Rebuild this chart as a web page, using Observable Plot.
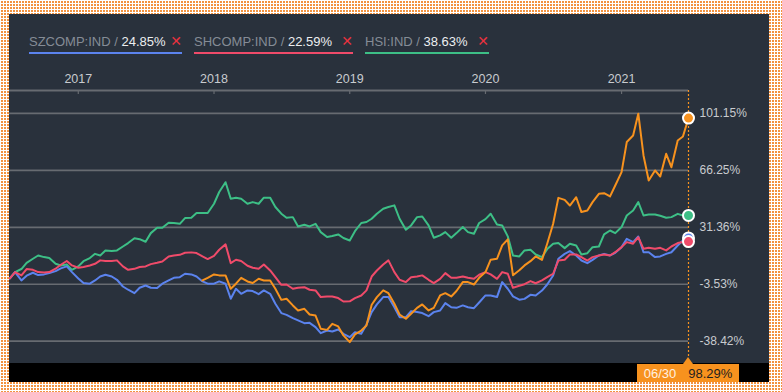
<!DOCTYPE html>
<html><head><meta charset="utf-8">
<script src="https://cdn.jsdelivr.net/npm/d3@7"></script>
<script src="https://cdn.jsdelivr.net/npm/@observablehq/plot@0.6"></script>
<style>
html,body{margin:0;padding:0;}
body{width:782px;height:392px;overflow:hidden;position:relative;
  background-color:#f2923f;
  background-image:linear-gradient(90deg,#fff 1px,transparent 1px),linear-gradient(#fff 1px,transparent 1px);
  background-size:3px 3px;
  font-family:"Liberation Sans",Arial,sans-serif;}
#panel{position:absolute;left:9px;top:14px;width:760px;height:368px;background:#29313c;overflow:hidden;}
#band{position:absolute;left:0;top:349px;width:760px;height:19px;background:#000;}
#chart{position:absolute;left:0;top:0;}
#legend{position:absolute;left:20px;top:20px;display:flex;gap:12px;font-size:13px;line-height:15px;white-space:nowrap;}
.item{flex:none;display:flex;justify-content:space-between;align-items:center;padding-bottom:3px;border-bottom:2px solid;white-space:nowrap;}
.item .nm{color:#858c96;}
.item .vl{color:#eceef0;}
.item .x{color:#e8323f;font-family:"DejaVu Sans",sans-serif;font-size:14px;font-weight:bold;line-height:15px;}
#tip{position:absolute;top:350px;height:18px;width:102px;background:#f7921e;display:flex;align-items:center;justify-content:center;gap:12px;font-size:13px;}
#tip .d{color:#fff1e0;}
#tip .v{color:#1e1e1e;}
#tri{position:absolute;top:343px;width:0;height:0;border-left:5.5px solid transparent;border-right:5.5px solid transparent;border-bottom:7px solid #f7921e;}
</style></head>
<body>
<div id="panel">
  <div id="band"></div>
  <div id="chart"></div>
  <div id="legend"></div>
  <div id="tri"></div>
  <div id="tip"></div>
</div>
<script>
const dates = [
"2016-07-01","2016-07-15","2016-08-01","2016-08-15","2016-09-01","2016-09-15","2016-10-01","2016-10-15","2016-11-01","2016-11-15","2016-12-01","2016-12-15",
"2017-01-01","2017-01-15","2017-02-01","2017-02-15","2017-03-01","2017-03-15","2017-04-01","2017-04-15","2017-05-01","2017-05-15","2017-06-01","2017-06-15",
"2017-07-01","2017-07-15","2017-08-01","2017-08-15","2017-09-01","2017-09-15","2017-10-01","2017-10-15","2017-11-01","2017-11-15","2017-12-01","2017-12-15",
"2018-01-01","2018-01-15","2018-02-01","2018-02-15","2018-03-01","2018-03-15","2018-04-01","2018-04-15","2018-05-01","2018-05-15","2018-06-01","2018-06-15",
"2018-07-01","2018-07-15","2018-08-01","2018-08-15","2018-09-01","2018-09-15","2018-10-01","2018-10-15","2018-11-01","2018-11-15","2018-12-01","2018-12-15",
"2019-01-01","2019-01-15","2019-02-01","2019-02-15","2019-03-01","2019-03-15","2019-04-01","2019-04-15","2019-05-01","2019-05-15","2019-06-01","2019-06-15",
"2019-07-01","2019-07-15","2019-08-01","2019-08-15","2019-09-01","2019-09-15","2019-10-01","2019-10-15","2019-11-01","2019-11-15","2019-12-01","2019-12-15",
"2020-01-01","2020-01-15","2020-02-01","2020-02-15","2020-03-01","2020-03-15","2020-04-01","2020-04-15","2020-05-01","2020-05-15","2020-06-01","2020-06-15",
"2020-07-01","2020-07-15","2020-08-01","2020-08-15","2020-09-01","2020-09-15","2020-10-01","2020-10-15","2020-11-01","2020-11-15","2020-12-01","2020-12-15",
"2021-01-01","2021-01-15","2021-02-01","2021-02-15","2021-03-01","2021-03-15","2021-04-01","2021-04-15","2021-05-01","2021-05-15","2021-06-01","2021-06-15",
"2021-06-30"];

const hsi = [0,3.9,5.8,9.6,12.1,14.1,13.1,12.5,9.0,8.0,
8.6,5.3,7.4,10.6,12.5,15.1,14.1,17.2,16.8,17.2,
19.6,21.7,24.7,24.1,22.5,27.8,31.1,31.1,34.2,34.0,
33.5,37.0,37.2,40.1,40.1,40.1,45.8,53.0,59.0,48.9,
49.5,48.9,45.8,46.8,45.8,49.5,49.5,43.8,39.7,37.2,
37.6,31.9,32.9,31.9,33.5,28.4,25.4,26.0,27.0,24.8,
23.3,29.0,34.0,34.6,36.6,39.7,42.7,43.8,44.8,36.6,
29.9,32.5,37.6,38.0,32.5,25.0,26.4,28.4,25.0,27.8,
31.5,28.4,27.4,34.0,36.4,39.7,33.1,32.5,25.8,14.1,
13.5,17.2,17.6,14.7,13.1,18.0,21.3,21.7,18.6,21.3,
20.2,14.7,15.5,19.2,19.6,27.0,29.4,27.8,31.5,38.6,
41.7,46.8,38.6,39.2,39.2,38.4,37.2,37.6,39.6,38.6,
38.63];

const shcomp = [0,3.9,1.9,5.8,5.3,3.9,3.7,3.9,6.0,8.4,
10.7,8.0,6.6,7.0,8.0,9.0,11.1,10.7,10.7,11.1,
7.4,5.3,5.9,7.0,7.4,8.8,9.6,10.4,13.5,14.1,
14.5,15.8,16.0,15.6,13.5,11.9,13.9,17.6,20.9,9.4,
11.5,10.7,7.8,6.6,5.9,8.6,4.9,0.8,-3.9,-3.7,
-6.3,-5.7,-5.3,-6.9,-7.3,-11.4,-11.0,-11.0,-12.0,-14.1,
-14.0,-12.0,-10.4,-7.3,1.2,4.9,8.6,11.1,3.9,-0.8,
-2.2,0.8,1.2,1.9,-0.8,-2.8,-0.2,3.3,0.4,0.4,
1.2,0.4,-0.2,2.3,3.9,2.5,-0.2,3.9,2.9,-5.7,
-4.5,-3.5,-1.6,-2.9,-1.2,0.8,2.9,11.0,11.5,14.7,
14.7,13.1,11.0,13.1,14.1,14.7,14.1,16.1,19.2,22.3,
21.3,25.3,18.2,18.8,18.2,18.8,17.2,19.6,21.7,22.3,
22.59];

const szcomp = [0,3.9,-1.2,1.7,3.5,2.1,2.5,3.3,4.5,6.2,
7.4,3.9,0.0,-2.8,-3.2,-1.2,1.2,2.3,1.2,-0.8,
-4.9,-6.9,-9.0,-5.7,-4.3,-5.7,-5.9,-3.2,-1.2,0.4,
0.8,2.9,2.5,1.2,-1.8,-3.2,-3.2,-1.8,-3.2,-12.4,
-6.3,-9.4,-7.3,-7.7,-9.6,-7.3,-9.4,-15.5,-21.2,-22.3,
-24.3,-25.7,-27.4,-27.2,-29.8,-33.5,-31.9,-32.5,-31.3,-33.9,
-36.0,-32.9,-33.9,-28.2,-20.6,-15.9,-11.4,-11.4,-17.6,-23.7,
-23.7,-20.0,-20.6,-21.2,-23.1,-20.6,-19.6,-15.1,-17.6,-18.0,
-16.5,-17.6,-18.2,-14.7,-10.4,-10.4,-11.4,-2.2,-6.3,-11.0,
-13.0,-12.5,-10.0,-10.4,-7.4,-3.7,1.8,12.1,15.1,16.8,
14.1,11.0,9.4,11.4,14.1,15.1,14.1,15.7,19.2,24.3,
22.3,25.7,16.1,16.1,13.1,13.5,15.1,16.1,20.2,23.3,
24.85];

const focus = [null,null,null,null,null,null,null,null,null,null,
null,null,null,null,null,null,null,null,null,null,
null,null,null,null,null,null,null,null,null,null,
null,null,null,null,-1.2,0.4,2.5,1.9,1.9,-6.3,
-3.2,0.4,-1.8,-2.8,-0.2,-1.2,-1.2,-6.3,-13.1,-12.4,
-16.5,-19.6,-18.6,-22.1,-22.7,-30.8,-31.5,-27.8,-29.4,-34.9,
-39.0,-34.3,-31.9,-28.8,-16.1,-11.4,-7.3,-9.0,-15.5,-22.1,
-24.7,-21.6,-18.0,-15.9,-19.6,-18.0,-10.4,-9.0,-11.0,-7.7,
-2.2,-2.2,-3.7,0.4,3.9,11.5,12.1,20.3,24.0,2.0,
5.0,8.0,10.6,13.5,11.4,21.3,33.5,49.4,48.2,44.7,
49.8,40.7,41.7,46.8,51.9,52.3,50.3,57.0,65.2,83.6,
87.6,101.0,75.4,60.0,66.2,62.5,76.4,68.2,84.6,87.0,
98.29];

const yearTicks = ["2017-01-01","2018-01-01","2019-01-01","2020-01-01","2021-01-01"];
const yTicks = [101.15, 66.25, 31.36, -3.53, -38.42];
const xDomain = ["2016-06-30","2021-06-30"];
const yDomain = [-52.1, 115.2];

const names = ["HSI:IND","SZCOMP:IND","SHCOMP:IND","FOCUS"];
const colors = ["#3dbf86","#5b83ee","#f04b6a","#f7921e"];
const valuesByName = {"HSI:IND": hsi, "SZCOMP:IND": szcomp, "SHCOMP:IND": shcomp, "FOCUS": focus};

const parse = d3.utcParse("%Y-%m-%d");
const rows = names.flatMap(n => dates.map((d, i) => ({date: parse(d), value: valuesByName[n][i], name: n})).filter(r => r.value != null));
const dotOrder = ["FOCUS","HSI:IND","SZCOMP:IND","SHCOMP:IND"];
const lastRows = dotOrder.map(n => ({date: parse(dates[dates.length - 1]), value: valuesByName[n][dates.length - 1], name: n}));

const gridColor = "#676b71";
const chart = Plot.plot({
  width: 760, height: 368,
  marginTop: 76, marginBottom: 19, marginLeft: 0, marginRight: 81,
  style: {background: "transparent", overflow: "visible", fontFamily: "'Liberation Sans', Arial, sans-serif", fontSize: "12px", color: "#c8cbcf"},
  x: {type: "utc", domain: xDomain.map(parse)},
  y: {domain: yDomain},
  color: {domain: names, range: colors},
  marks: [
    Plot.ruleY(yTicks, {stroke: gridColor, strokeWidth: 1.7}),
    Plot.ruleY([yDomain[1]], {stroke: "#676b71", strokeWidth: 1.8}),
    Plot.ruleX(yearTicks.map(parse), {stroke: "#676b71", strokeWidth: 1.2, insetBottom: 269}),
    Plot.axisX({anchor: "top", ticks: yearTicks.map(parse), tickFormat: d3.utcFormat("%Y"), tickSize: 0, tickPadding: 8, fill: "#c8cbcf", fontSize: 12.5, label: null}),
    Plot.axisY({anchor: "right", ticks: yTicks, tickFormat: d => d.toFixed(2) + "%", tickSize: 0, tickPadding: 11, fill: "#c8cbcf", fontSize: 12, label: null}),
    Plot.ruleX([parse(xDomain[1])], {stroke: "#f7921e", strokeWidth: 1.2, strokeDasharray: "2,2", insetBottom: 6}),
    Plot.lineY(rows, {x: "date", y: "value", z: "name", stroke: "name", strokeWidth: 2}),
    Plot.dot(lastRows, {x: "date", y: "value", fill: "name", stroke: "#ffffff", strokeWidth: 2, r: 5.5})
  ]
});
document.getElementById("chart").appendChild(chart);

// legend
const legendItems = [
  {name: "SZCOMP:IND", vals: szcomp, color: "#5b83ee", width: 153},
  {name: "SHCOMP:IND", vals: shcomp, color: "#f04b6a", width: 159},
  {name: "HSI:IND", vals: hsi, color: "#3dbf86", width: 124}
];
const legend = document.getElementById("legend");
for (const it of legendItems) {
  const el = document.createElement("div");
  el.className = "item";
  el.style.borderBottomColor = it.color;
  el.style.width = it.width + "px";
  el.innerHTML = `<span><span class="nm">${it.name} / </span><span class="vl">${it.vals[it.vals.length - 1].toFixed(2)}%</span></span><span class="x">✕</span>`;
  legend.appendChild(el);
}

// end tooltip
const xEnd = chart.scale("x").apply(parse(dates[dates.length - 1]));
const tip = document.getElementById("tip");
tip.style.left = (xEnd - 51) + "px";
tip.innerHTML = `<span class="d">${d3.utcFormat("%m/%d")(parse(dates[dates.length - 1]))}</span><span class="v">${focus[focus.length - 1].toFixed(2)}%</span>`;
const tri = document.getElementById("tri");
tri.style.left = (xEnd - 5.5) + "px";
</script>
</body></html>
